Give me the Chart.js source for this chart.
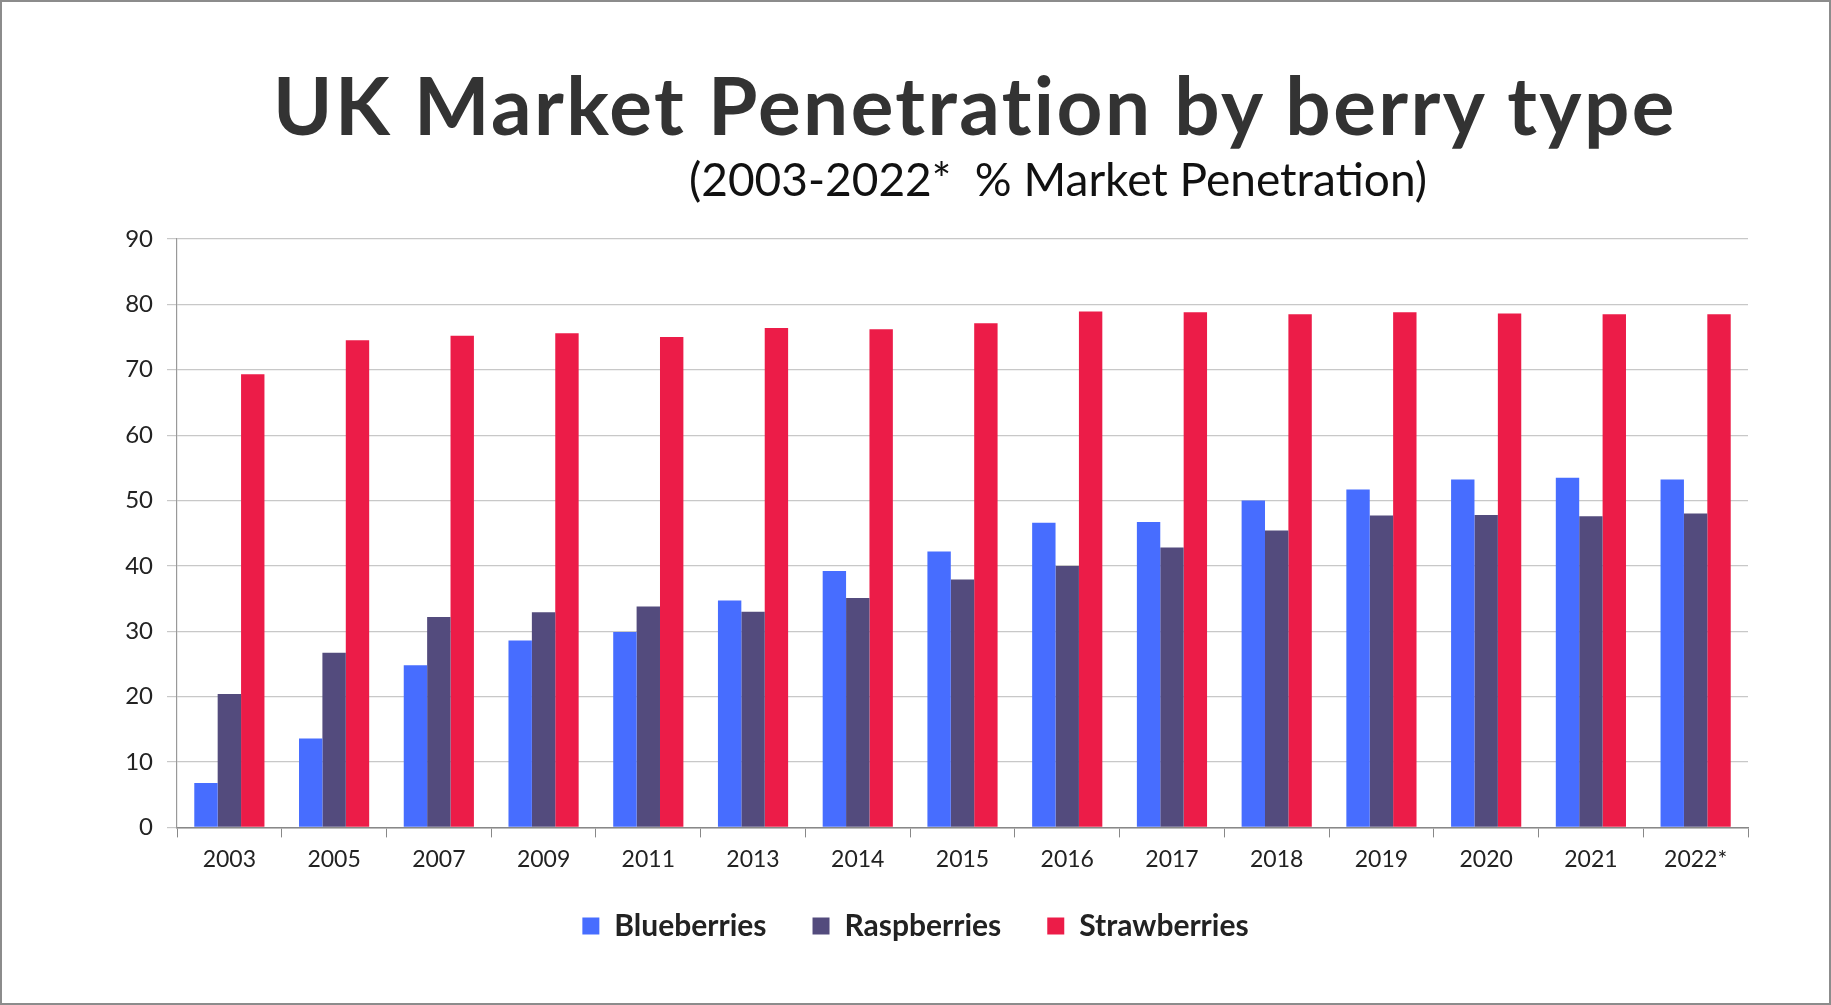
<!DOCTYPE html>
<html>
<head>
<meta charset="utf-8">
<script src="https://cdn.jsdelivr.net/npm/chart.js@4.4.1/dist/chart.umd.min.js"></script>
<style>
  html, body { margin: 0; padding: 0; background: #fff; }
  #wrap {
    position: relative;
    width: 1831px;
    height: 1005px;
    box-sizing: border-box;
    border: 2px solid #8c8c8c;
    overflow: hidden;
  }
  #wrap canvas { position: absolute; left: 0; top: 0; }
  .ttl {
    position: absolute;
    transform: translateX(-50%);
    white-space: nowrap;
    line-height: 1;
    color: #333;
    font-family: Lato, "Open Sans", sans-serif;
  }
  #title { left: 973px; top: 62px; font-size: 80px; font-weight: 700; letter-spacing: 2.4px; }
  #subtitle { left: 1056px; top: 154px; font-size: 46px; font-weight: 400; color: #111; }
</style>
</head>
<body>
<div id="wrap">
  <canvas id="myChart"></canvas>
  <div class="ttl" id="title">UK Market Penetration by berry type</div>
  <div class="ttl" id="subtitle">(2003-2022*&nbsp; % Market Penetration)</div>
</div>
<script>
const years = ["2003", "2005", "2007", "2009", "2011", "2013", "2014", "2015",
  "2016", "2017", "2018", "2019", "2020", "2021", "2022*"];
const blueberries = [6.8, 13.6, 24.8, 28.6, 29.9, 34.7, 39.2, 42.2, 46.6, 46.7, 50.0, 51.7, 53.2, 53.5, 53.2];
const raspberries = [20.4, 26.7, 32.2, 32.9, 33.8, 33.0, 35.1, 37.9, 40.0, 42.8, 45.4, 47.7, 47.8, 47.6, 48.0];
const strawberries = [69.3, 74.5, 75.2, 75.6, 75.0, 76.4, 76.2, 77.1, 78.9, 78.8, 78.5, 78.8, 78.6, 78.5, 78.5];
const yTicks = [0, 10, 20, 30, 40, 50, 60, 70, 80, 90];

// legend sits a bit higher than chart.js puts it (wide label padding)
const legendLift = {
  id: "legendLift",
  afterLayout(chart) {
    const lg = chart.legend;
    if (!lg) return;
    lg.top -= 16;
    lg.bottom -= 16;
  },
};

initChart();

function initChart() {
  const ctx = document.getElementById("myChart").getContext("2d");
  window.chart = new Chart(ctx, {
    type: "bar",
    data: {
      labels: years,
      datasets: [
        { label: "Blueberries", data: blueberries, backgroundColor: "#476dff" },
        { label: "Raspberries", data: raspberries, backgroundColor: "#534b7d" },
        { label: "Strawberries", data: strawberries, backgroundColor: "#ec1c48" },
      ],
    },
    plugins: [legendLift],
    options: {
      responsive: true,
      maintainAspectRatio: false,
      animation: false,
      datasets: {
        bar: { barPercentage: 1, categoryPercentage: 0.67 },
      },
      layout: {
        padding: { top: 237, right: 81, bottom: 36, left: 81 },
      },
      plugins: {
        title: { display: false },
        tooltip: { enabled: false },
        legend: {
          position: "bottom",
          labels: {
            boxWidth: 17,
            boxHeight: 17,
            padding: 46,
            color: "#222",
            font: { family: "Lato", size: 30, weight: "700" },
          },
        },
      },
      scales: {
        x: {
          grid: {
            drawOnChartArea: false,
            drawTicks: true,
            tickLength: 10,
            color: "#888",
          },
          border: { color: "#888", width: 1.5 },
          ticks: {
            color: "#222",
            padding: 8,
            font: { family: "Lato", size: 23 },
          },
        },
        y: {
          min: 0,
          max: 90,
          afterBuildTicks: (axis) => {
            axis.ticks = yTicks.map((v) => ({ value: v }));
          },
          afterFit: (axis) => {
            axis.width = 94;
          },
          grid: {
            color: "#c8c8c8",
            lineWidth: 1.2,
            tickLength: 10,
          },
          border: { color: "#999", width: 1.2 },
          ticks: {
            color: "#222",
            padding: 14,
            font: { family: "Lato", size: 24 },
          },
        },
      },
    },
  });
}
</script>
</body>
</html>
